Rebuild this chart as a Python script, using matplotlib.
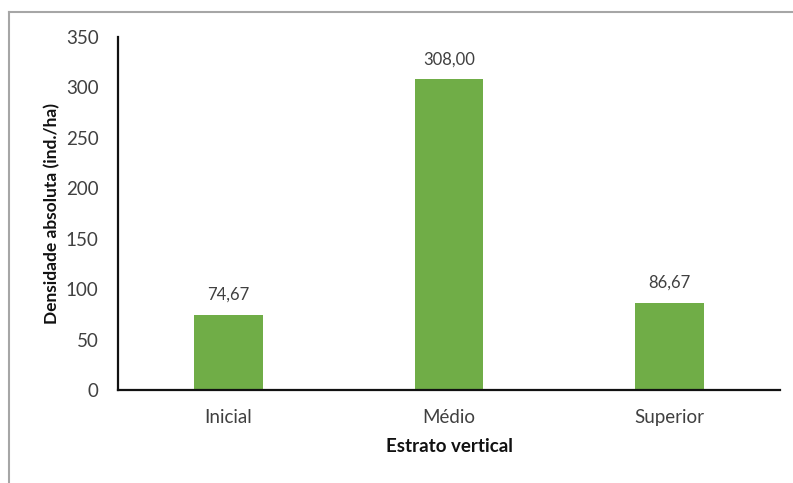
import matplotlib
matplotlib.use("Agg")
import matplotlib.pyplot as plt
from matplotlib.lines import Line2D

categories = ["Inicial", "Médio", "Superior"]
densidade = [74.67, 308.00, 86.67]
y_ticks = [0, 50, 100, 150, 200, 250, 300, 350]

plt.rcParams["font.family"] = ["Lato", "DejaVu Sans"]

W, H = 793, 483
fig = plt.figure(figsize=(W / 100, H / 100), dpi=100)
ax = fig.add_axes([118 / W, 1 - 390 / H, (780 - 118) / W, (390 - 37) / H])

x = range(len(categories))
bars = ax.bar(x, densidade, width=0.31, color="#70AD47", zorder=2)

for xi, v in zip(x, densidade):
    ax.text(xi, v + 12, f"{v:.2f}".replace(".", ","), ha="center", va="bottom",
            fontsize=12, color="#404040")

ax.set_xlim(-0.5, 2.5)
ax.set_ylim(0, 350)
ax.set_yticks(y_ticks)
ax.set_yticklabels([str(t) for t in y_ticks])
ax.set_xticks(list(x))
ax.set_xticklabels(categories)
ax.tick_params(axis="both", length=0, labelsize=13.5, labelcolor="#404040")
ax.tick_params(axis="y", pad=14)
ax.tick_params(axis="x", pad=14)

for side in ("top", "right"):
    ax.spines[side].set_visible(False)
for side in ("left", "bottom"):
    ax.spines[side].set_linewidth(1.6)
    ax.spines[side].set_color("#111111")

ax.set_ylabel("Densidade absoluta (ind./ha)", fontsize=12.5, fontweight="bold",
              color="#111111", labelpad=4)
ax.set_xlabel("Estrato vertical", fontsize=13.5, fontweight="bold",
              color="#111111", labelpad=8)

# outer frame (top and left edges)
fig.add_artist(Line2D([9 / W, 9 / W], [0, 1 - 12 / H], transform=fig.transFigure,
                      color="#A6A6A6", lw=1.5))
fig.add_artist(Line2D([9 / W, 1], [1 - 12 / H, 1 - 12 / H], transform=fig.transFigure,
                      color="#A6A6A6", lw=1.5))

fig.savefig("out.png", dpi=100)
